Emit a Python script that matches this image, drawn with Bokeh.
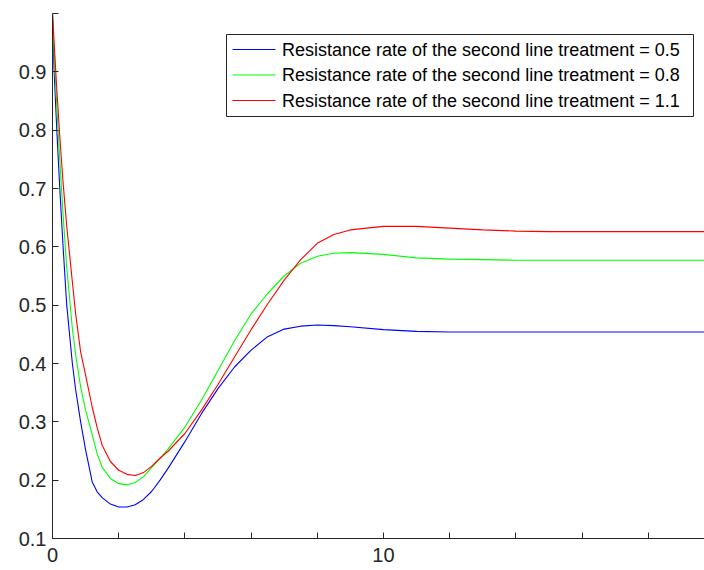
from bokeh.plotting import figure
from bokeh.models import Range1d, FixedTicker, BoxAnnotation, Label
from bokeh.embed import file_html
from bokeh.resources import INLINE

# ---- data ----
T = [0, 0.05, 0.13, 0.22, 0.32, 0.43, 0.6, 0.7, 0.85, 1.0,
     1.2, 1.35, 1.5, 1.75, 2.0, 2.25, 2.5, 2.75, 3.0, 3.25,
     3.5, 4.0, 4.5, 5.0, 5.5, 6.0, 6.5, 7.0, 7.5, 8.0,
     8.5, 9.0, 10, 11, 12, 13, 14, 15, 16, 17,
     18, 19, 20]
BLUE = [1.0, 0.9, 0.8, 0.7, 0.6, 0.5, 0.4, 0.355, 0.3, 0.252,
        0.197, 0.18, 0.17, 0.159, 0.154, 0.154, 0.158, 0.167, 0.181, 0.2,
        0.221, 0.266, 0.314, 0.357, 0.394, 0.423, 0.446, 0.459, 0.464, 0.466,
        0.465, 0.463, 0.458, 0.455, 0.454, 0.454, 0.454, 0.454, 0.454, 0.454,
        0.454, 0.454, 0.454]
GREEN = [1.0, 0.93, 0.84, 0.75, 0.655, 0.565, 0.46, 0.415, 0.36, 0.32,
         0.278, 0.245, 0.222, 0.203, 0.194, 0.192, 0.196, 0.206, 0.222, 0.237,
         0.254, 0.291, 0.337, 0.388, 0.439, 0.485, 0.52, 0.55, 0.572, 0.584,
         0.589, 0.59, 0.587, 0.581, 0.579, 0.578, 0.577, 0.577, 0.577, 0.577,
         0.577, 0.577, 0.577]
RED = [1.0, 0.95, 0.87, 0.79, 0.71, 0.635, 0.54, 0.485, 0.42, 0.38,
       0.325, 0.29, 0.26, 0.232, 0.217, 0.21, 0.208, 0.213, 0.224, 0.238,
       0.25, 0.28, 0.32, 0.364, 0.411, 0.458, 0.502, 0.543, 0.578, 0.606,
       0.621, 0.629, 0.635, 0.635, 0.632, 0.629, 0.627, 0.626, 0.626, 0.626,
       0.626, 0.626, 0.626]
SERIES = [BLUE, GREEN, RED]
COLORS = ["#0000ff", "#00ff00", "#ff0000"]
LABELS = ["Resistance rate of the second line treatment = 0.5",
          "Resistance rate of the second line treatment = 0.8",
          "Resistance rate of the second line treatment = 1.1"]
X_TICKS = [0, 2, 4, 6, 8, 10, 12, 14, 16, 18]
X_TICK_LABELS = ["0", "", "", "", "", "10", "", "", "", ""]
Y_TICKS = [0.1, 0.2, 0.3, 0.4, 0.5, 0.6, 0.7, 0.8, 0.9, 1.0]
Y_TICK_LABELS = ["0.1", "0.2", "0.3", "0.4", "0.5", "0.6", "0.7", "0.8", "0.9", ""]

FONT = "Liberation Sans"
AX = "#262626"

# layout (pixels)
W, H = 704, 570
FL, FR, FT, FB = 52, 704, 13, 538
X0, X1 = 0, 19.7
Y0, Y1 = 0.1, 1.0


def dx(px):
    return X0 + (px - FL) / (FR - FL) * (X1 - X0)


def dy(py):
    return Y0 + (FB - py) / (FB - FT) * (Y1 - Y0)


p = figure(width=W, height=H, output_backend="svg", toolbar_location=None,
           x_range=Range1d(X0, X1), y_range=Range1d(Y0, Y1),
           min_border_left=FL, min_border_right=W - FR, min_border_top=FT,
           min_border_bottom=H - FB)
p.outline_line_color = None
p.grid.visible = False
p.background_fill_color = "white"
p.border_fill_color = "white"

for ys, col in zip(SERIES, COLORS):
    p.line(T, ys, line_color=col, line_width=1.1)

xa = p.xaxis[0]
xa.ticker = FixedTicker(ticks=X_TICKS)
xa.major_label_overrides = {t: l for t, l in zip(X_TICKS, X_TICK_LABELS)}
ya = p.yaxis[0]
ya.ticker = FixedTicker(ticks=Y_TICKS)
ya.major_label_overrides = {t: l for t, l in zip(Y_TICKS, Y_TICK_LABELS)}

for ax in (xa, ya):
    ax.axis_line_color = AX
    ax.axis_line_width = 1
    ax.major_tick_line_color = AX
    ax.major_tick_in = 6
    ax.major_tick_out = 0
    ax.minor_tick_in = 0
    ax.minor_tick_out = 0
    ax.major_label_text_font = FONT
    ax.major_label_text_font_size = "20px"
    ax.major_label_text_color = AX
xa.major_label_standoff = 9
ya.major_label_standoff = 6

# ---- legend box (drawn by hand) ----
box = BoxAnnotation(left=dx(226), right=dx(693), top=dy(34), bottom=dy(116),
                    fill_color="white", fill_alpha=1.0,
                    line_color=AX, line_alpha=1.0, line_width=1)
p.add_layout(box)
for i, (col, lab) in enumerate(zip(COLORS, LABELS)):
    cy = 49 + 25.5 * i
    seg = p.segment(x0=[dx(232)], y0=[dy(cy)], x1=[dx(275)], y1=[dy(cy)],
                    line_color=col, line_width=1.1)
    seg.level = "overlay"
    p.add_layout(Label(x=dx(281.5), y=dy(cy), text=lab, text_font=FONT,
                       text_font_size="18px", text_color="#000000",
                       text_baseline="middle", text_align="left"))

open("out.html", "w").write(file_html(p, INLINE))
